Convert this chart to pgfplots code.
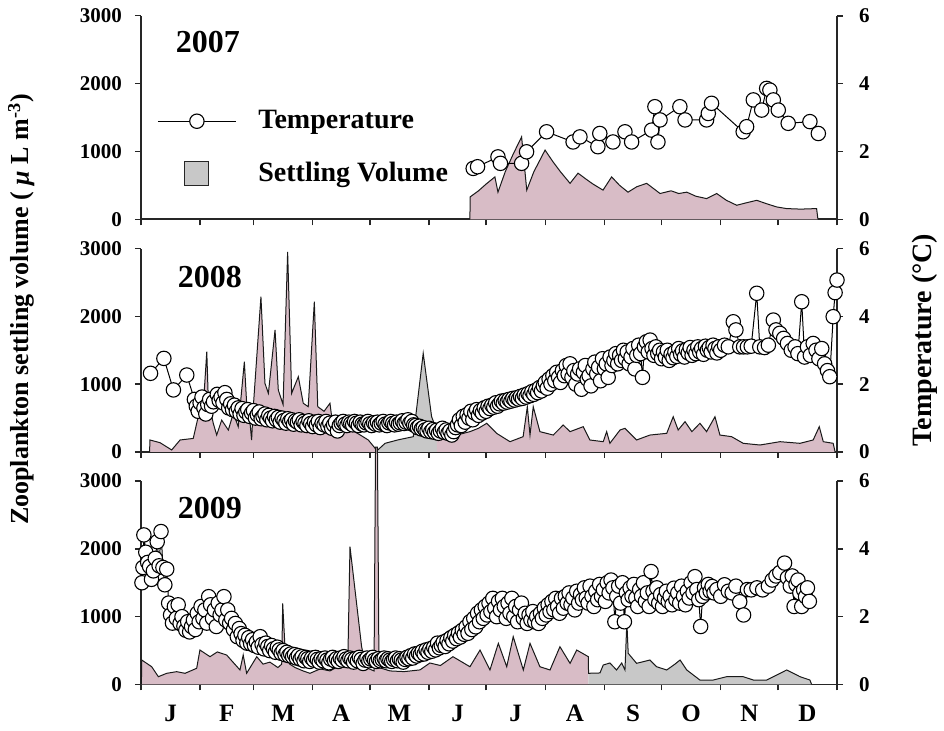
\documentclass[border=0pt]{standalone}
\usepackage{pgfplots}
\usepackage{pgfplotstable}
\pgfplotsset{compat=1.18}
\usepackage{fontspec}
\setmainfont{Liberation Serif}
\definecolor{volpink}{RGB}{216,188,198}
\definecolor{volgrey}{RGB}{200,200,200}
\tikzset{yearlbl/.style={font=\fontsize{16}{18}\selectfont\bfseries}}

\pgfplotstableread{
day vol
172.5 0
172.6 330
177 420
181 520
185.6 625
187.2 400
191 700
195 950
199.6 1215
202.3 430
206 700
211.9 1020
216 850
220 700
225 530
229.2 680
233 600
237 520
242.3 430
246.8 625
251 500
255.4 400
260 480
265.2 530
272.2 380
278 420
282 380
286.2 400
291 340
296.6 305
301.9 380
307 280
312.4 207
317 240
322.9 280
328 230
333.4 182
338.6 158
346 150
354.3 158
355 0
}\volA

\pgfplotstableread{
day t
174.2 1.50
176.5 1.55
187.2 1.84
188.5 1.65
199.6 1.65
202.2 1.99
212.7 2.58
226.6 2.28
230.2 2.43
239.6 2.14
240.6 2.53
247.5 2.28
253.8 2.58
257.3 2.28
267.8 2.63
269.5 3.32
271.1 2.28
272.2 2.93
282.6 3.32
285.3 2.93
296.6 2.93
297.5 3.12
299.2 3.42
315.8 2.58
317.6 2.73
321.1 3.52
325.5 3.22
328.1 3.86
329.8 3.81
331.6 3.52
334.2 3.22
339.4 2.83
350.8 2.88
355.2 2.53
}\tmpA

\pgfplotstableread{
day vol
4.5 0
4.7 177
10.0 137
16.1 30
20.5 177
27.4 200
30.0 520
32.5 600
34.5 1480
35.3 766
37.9 423
39.7 250
42.3 470
45.8 324
48.4 570
51.0 373
54.2 1330
55.4 718
57.2 423
58.0 177
58.9 668
62.9 2290
65.0 1013
66.8 865
70.3 1800
72.0 914
74.5 700
76.9 2950
79.0 865
82.5 1110
85.1 718
87.7 668
90.9 2215
92.7 668
96.0 600
99.1 718
100.0 520
105.0 450
110.5 324
115.0 250
119.2 177
123.8 20
128.0 128
135.0 180
142.8 226
148.0 1455
152.4 520
155.1 324
162.0 226
167.0 260
172.5 300
177.0 350
181.3 423
186.5 275
193.5 152
200.4 226
202.6 668
204.0 250
205.7 668
209.2 300
216.2 250
221.4 398
225.0 300
231.9 373
235.4 177
242.4 152
244.2 300
245.9 128
251.2 324
253.8 349
259.9 177
266.9 250
275.7 275
279.1 520
281.7 324
285.3 447
288.9 300
293.1 423
296.6 300
301.0 520
303.6 250
309.7 226
315.8 128
324.6 103
335.1 152
345.6 128
352.5 177
355.7 373
357.8 152
363.0 128
364.0 0
}\volB

\pgfplotstableread{
day t
5 2.32
12 2.76
17 1.83
24 2.27
28 1.55
29 1.35
30 1.20
31 1.45
32 1.62
33 1.30
34 1.12
35 1.40
36 1.55
37 1.35
38 1.48
40 1.70
41 1.52
42 1.62
43 1.45
44 1.75
45 1.55
46 1.30
47 1.42
48 1.25
49 1.38
50 1.20
51 1.30
52 1.12
53 1.28
54 1.08
55 1.18
56 1.25
57 1.05
58 1.15
59 1.22
60 1.00
61 1.10
62 1.18
63 0.98
64 1.05
65 1.12
66 0.95
67 1.08
68 1.00
69 0.92
70 1.05
71 0.95
72 1.02
73 0.88
74 1.00
75 0.93
76 0.85
77 0.98
78 0.90
79 0.95
80 0.82
81 0.92
82 0.88
83 0.95
84 0.80
85 0.90
86 0.85
87 0.78
88 0.92
89 0.84
90 0.75
91 0.88
92 0.80
93 0.90
94 0.72
95 0.85
96 0.80
97 0.90
98 0.76
99 0.85
100 0.70
101 0.80
102 0.88
103 0.62
104 0.78
105 0.85
106 0.90
107 0.82
108 0.78
109 0.88
110 0.84
111 0.80
112 0.90
113 0.85
114 0.78
115 0.88
116 0.82
117 0.80
118 0.86
119 0.90
120 0.83
121 0.78
122 0.86
123 0.82
124 0.88
125 0.80
126 0.85
127 0.90
128 0.82
129 0.78
130 0.86
131 0.90
132 0.84
133 0.80
134 0.88
135 0.82
136 0.86
137 0.92
138 0.84
139 0.88
140 0.95
141 0.85
142 0.90
143 0.80
144 0.78
145 0.72
146 0.76
147 0.68
148 0.72
149 0.65
150 0.62
151 0.70
152 0.60
153 0.66
154 0.58
155 0.64
156 0.55
157 0.62
158 0.70
159 0.58
160 0.65
161 0.55
162 0.62
163 0.50
164 0.60
165 0.72
166 0.80
167 0.95
168 0.78
169 1.05
170 0.88
171 1.10
172 1.00
173 1.20
174 0.95
175 1.15
176 1.25
177 1.08
178 1.22
179 1.15
180 1.30
181 1.20
182 1.35
183 1.28
184 1.38
185 1.32
186 1.45
187 1.35
188 1.42
189 1.50
190 1.44
191 1.52
192 1.47
193 1.55
194 1.50
195 1.58
196 1.53
197 1.60
198 1.56
199 1.64
200 1.58
201 1.68
202 1.62
203 1.72
204 1.66
205 1.78
206 1.70
207 1.82
208 1.75
209 1.90
210 1.80
211 1.95
212 2.05
213 1.88
214 2.15
215 2.00
216 2.25
217 2.10
218 2.35
219 2.20
220 2.05
221 2.40
222 2.25
223 2.55
224 2.30
225 2.60
226 2.20
227 2.40
228 2.00
229 2.30
230 2.45
231 1.85
232 2.35
233 2.55
234 2.15
235 2.25
236 1.95
237 2.45
238 2.65
239 2.30
240 2.50
241 2.10
242 2.75
243 2.45
244 2.60
245 2.20
246 2.80
247 2.55
248 2.70
249 2.90
250 2.60
251 2.85
252 2.70
253 3.00
254 2.75
255 2.95
256 2.60
257 2.80
258 3.05
259 2.45
260 2.85
261 3.15
262 2.90
263 2.20
264 3.10
265 3.25
266 2.95
267 3.30
268 3.05
269 2.85
270 3.10
271 2.90
272 3.00
273 2.75
274 2.95
275 2.80
276 3.00
277 2.70
278 2.88
279 2.78
280 2.95
281 2.82
282 3.05
283 2.88
284 2.98
285 2.80
286 3.02
287 2.92
288 3.08
289 2.85
290 3.00
291 2.90
292 3.10
293 2.95
294 3.05
295 2.88
296 3.12
297 3.00
298 3.08
299 2.95
300 3.15
301 3.05
302 2.92
303 3.10
304 3.00
306 3.15
308 3.10
310.6 3.84
312 3.60
314 3.10
316 3.10
318 3.10
320 3.12
322.9 4.68
324.5 3.10
327 3.08
329 3.15
331.6 3.89
333 3.60
335 3.50
337 3.35
339 3.20
341 3.00
343 3.10
344.5 2.90
346.5 4.43
348 2.80
349.5 3.10
351 2.85
352.5 3.20
354 3.00
355.5 2.75
357 3.05
358.5 2.60
360 2.40
361.2 2.22
363 3.99
364 4.70
365 5.07
}\tmpB

\pgfplotstableread{
day vol
0.2 0
0.4 361
5.6 262
9.1 115
13.5 165
18.7 189
23.1 165
29.2 239
30.9 508
36.2 410
40.0 480
44.9 435
51.9 214
53.6 435
55.4 165
60.7 410
64.0 300
67.6 330
71.8 250
73.8 300
74.3 1197
75.5 557
78.0 300
80.8 250
85.0 200
88.6 165
94.0 230
99.1 200
103.0 260
107.0 250
108.5 400
109.6 2031
115.7 557
118.0 250
122.2 200
123.0 3500
124.0 3500
124.8 250
130.6 200
138.0 190
146.3 215
151.5 317
157.0 280
163.6 410
172.5 262
177.8 508
183.0 214
187.4 607
191.8 262
195.2 705
200.5 214
204.0 607
209.2 262
214.5 214
219.7 557
225.0 312
228.5 508
234.6 410
234.7 165
240.7 170
242.4 287
245.9 317
249.4 214
252.1 317
253.8 214
254.8 920
255.5 460
259.9 312
266.9 361
270.4 262
275.7 214
280.0 300
282.7 361
286.2 214
293.1 66
300.1 66
307.1 115
315.8 115
321.1 66
328.1 66
338.6 214
345.6 115
350.8 66
351.7 0
}\volC

\pgfplotstableread{
day t
0.5 3.00
1.0 3.45
1.5 4.41
2.5 3.90
3.5 3.60
4.5 3.48
5.5 3.10
6.5 3.35
7.5 3.72
8.5 4.21
9.5 3.50
10.5 4.51
11.5 3.45
12.5 2.94
13.5 3.40
14.5 2.40
15.5 2.05
16.5 1.81
17.5 2.30
18.5 1.95
19.5 2.35
20.5 1.80
21.5 2.00
22.5 1.72
23.5 1.60
24.5 1.85
25.5 1.55
26.5 1.71
27.5 1.90
28.5 1.62
29.5 2.10
30.5 1.85
31.5 2.30
32.5 1.95
33.5 2.20
34.5 1.81
35.5 2.59
36.5 2.35
37.5 1.95
38.5 2.20
39.5 1.71
40.5 2.40
41.5 2.05
42.5 2.20
43.5 2.59
44.5 1.90
45.5 2.20
46.5 1.81
47.5 1.95
48.5 1.62
49.5 1.80
50.5 1.41
51.5 1.65
52.5 1.50
53.5 1.30
54.5 1.45
55.5 1.22
56.5 1.38
57.5 1.20
58.5 1.32
59.5 1.15
60.5 1.25
61.5 1.10
62.5 1.41
63.5 1.18
64.5 1.05
65.5 1.22
66.5 1.12
67.5 1.00
68.5 1.15
69.5 1.05
70.5 0.95
71.5 1.10
72.5 1.02
73.5 0.92
74.5 1.00
75.5 0.88
76.5 0.95
77.5 0.85
78.5 0.90
79.5 0.82
80.5 0.88
81.5 0.78
82.5 0.85
83.5 0.75
84.5 0.82
85.5 0.70
86.5 0.80
87.5 0.76
88.5 0.68
89.5 0.78
90.5 0.72
91.5 0.80
92.5 0.74
93.5 0.66
94.5 0.76
95.5 0.70
96.5 0.78
97.5 0.72
98.5 0.64
99.5 0.75
100.5 0.80
101.5 0.70
102.5 0.76
103.5 0.68
104.5 0.78
105.5 0.72
106.5 0.82
107.5 0.75
108.5 0.70
109.5 0.78
110.5 0.74
111.5 0.66
112.5 0.76
113.5 0.70
114.5 0.80
115.5 0.74
116.5 0.62
117.5 0.72
118.5 0.78
119.5 0.70
120.5 0.75
121.5 0.80
122.5 0.72
123.5 0.68
124.5 0.76
125.5 0.70
126.5 0.74
127.5 0.78
128.5 0.70
129.5 0.76
130.5 0.72
131.5 0.68
132.5 0.74
133.5 0.78
134.5 0.70
135.5 0.76
136.5 0.72
137.5 0.66
138.5 0.74
139.5 0.80
140.5 0.76
141.5 0.85
142.5 0.78
143.5 0.90
144.5 0.84
145.5 0.92
146.5 0.88
147.5 0.98
148.5 0.90
149.5 1.02
150.5 0.95
151.5 1.05
152.5 0.98
153.5 1.10
154.5 1.02
155.5 1.22
156.5 1.08
157.5 1.15
158.5 1.25
159.5 1.12
160.5 1.30
161.5 1.20
162.5 1.38
163.5 1.28
164.5 1.45
165.5 1.35
166.5 1.52
167.5 1.40
168.5 1.60
169.5 1.48
170.5 1.70
171.5 1.51
172.5 1.85
173.5 1.62
174.5 1.95
175.5 1.70
176.5 2.10
177.5 1.85
178.5 2.20
179.5 1.95
180.5 2.30
181.5 2.05
182.5 2.40
183.5 2.15
184.5 2.54
185.5 2.25
186.5 2.00
187.5 2.45
188.5 2.20
189.5 2.54
190.5 2.30
191.5 1.95
192.5 2.40
193.5 2.10
194.5 2.54
195.5 2.00
196.5 2.30
197.5 1.85
198.5 2.20
199.5 2.40
200.5 1.95
201.5 2.10
202.5 1.80
203.5 2.05
204.5 1.90
205.5 2.15
206.5 1.85
207.5 2.00
208.5 1.80
209.5 2.10
210.5 1.95
211.5 2.25
212.5 2.05
213.5 2.35
214.5 2.15
215.5 2.45
216.5 2.20
217.5 2.54
218.5 2.30
219.5 2.10
220.5 2.54
221.5 2.25
222.5 2.60
223.5 2.40
224.5 2.70
225.5 2.35
226.5 2.55
227.5 2.20
228.5 2.75
229.5 2.40
230.5 2.65
231.5 2.50
232.5 2.85
233.5 2.55
234.5 2.40
235.5 2.90
236.5 2.60
237.5 2.30
238.5 2.75
239.5 2.50
240.5 2.95
241.5 2.60
242.5 2.80
243.5 2.45
244.5 3.00
245.5 2.70
246.5 3.08
247.5 2.85
248.5 1.85
249.5 2.60
250.5 2.90
251.5 2.40
252.5 3.00
253.5 1.85
254.5 2.70
255.5 2.50
256.5 2.85
257.5 2.60
258.5 2.95
259.5 2.55
260.5 2.30
261.5 2.80
262.5 2.60
263.5 3.00
264.5 2.45
265.5 2.70
266.5 2.30
267.5 3.33
268.5 2.75
269.5 2.50
270.5 2.85
271.5 2.40
272.5 2.65
273.5 2.30
274.5 2.55
275.5 2.75
276.5 2.45
277.5 2.60
278.5 2.35
279.5 2.84
280.5 2.50
281.5 2.70
282.5 2.40
283.5 2.90
284.5 2.60
285.5 2.35
286.5 2.75
287.5 2.55
288.5 3.00
289.5 2.70
290.5 3.18
291.5 2.80
292.5 2.50
293.5 1.71
294.5 2.60
295.5 2.85
296.5 2.70
297.5 2.95
298.5 2.75
299.5 2.89
300.5 2.70
302 2.80
304 2.60
306 2.94
308 2.75
310 2.70
312 2.90
314 2.44
316 2.05
318 2.80
320 2.79
323 2.85
326 2.79
329 2.90
331 3.08
333 3.20
335 3.30
337.5 3.58
339 3.15
340.5 2.90
341.5 3.20
342.5 2.30
343.5 2.95
344.5 3.08
345.5 2.70
346.5 2.30
347.5 2.79
348.5 2.59
349.5 2.85
350.5 2.45
}\tmpC

\pgfplotsset{
  base/.style={scale only axis, width=348pt, height=101.75pt,
    xmin=0, xmax=365, clip=false,
    axis line style={line width=0.8pt, black!85},
    tick style={line width=0.7pt, black!85},
    tick align=outside, major tick length=3pt,
    tick label style={font=\fontsize{10.5}{12}\selectfont\bfseries},
    /pgf/number format/assume math mode=true,
    /pgf/number format/1000 sep={},
  },
  vol/.style={base, ymin=0, ymax=3000, axis x line*=bottom, axis y line*=left,
    ytick={0,1000,2000,3000},
    yticklabel style={xshift=-3pt},
    xtick={0,31,59,90,120,151,181,212,243,273,304,334,365}, xticklabels={},
  },
  tmp/.style={base, ymin=0, ymax=6, axis y line*=right, axis x line=none,
    ytick={0,2,4,6}, yticklabel style={xshift=4.5pt}},
  volline/.style={draw=black!90, line width=0.5pt},
  tmpline/.style={black, line width=0.5pt, mark=*, mark size=3.6pt,
    mark options={fill=white, draw=black, line width=0.55pt}},
}

\begin{document}
\begin{tikzpicture}
\useasboundingbox (0,0) rectangle (472pt,-365.5pt);

% ---------------- 2007 ----------------
\begin{axis}[vol, at={(70.5pt,-109.65pt)}, anchor=south west]
\addplot[fill=volpink, draw=none] table[x=day,y=vol] {\volA} \closedcycle;
\addplot[volline] table[x=day,y=vol] {\volA};
\node[yearlbl] at (axis description cs:0.096,0.872) {2007};
\end{axis}
\begin{axis}[tmp, at={(70.5pt,-109.65pt)}, anchor=south west,
  legend style={draw=none, fill=none, at={(axis description cs:0.023,0.556)},
    anchor=north west, font=\fontsize{14}{16}\selectfont\bfseries,
    row sep=11pt, inner sep=0pt, column sep=9pt},
  legend cell align=left]
\addplot[tmpline, legend image code/.code={
  \draw[black, line width=0.5pt] (0pt,0pt) -- (39pt,0pt);
  \draw[black, fill=white, line width=0.55pt] (19.5pt,0pt) circle (3.6pt);}]
  table[x=day,y=t] {\tmpA};
\addlegendentry{Temperature}
\addlegendimage{legend image code/.code={
  \path[draw=none, fill=none] (0pt,0pt) -- (39pt,0pt);
  \draw[black!85, line width=0.5pt, fill=volgrey] (13.5pt,-6pt) rectangle (25.5pt,6pt);}}
\addlegendentry{Settling Volume}
\end{axis}

% ---------------- 2008 ----------------
\begin{axis}[vol, at={(70.5pt,-226pt)}, anchor=south west,
  ylabel={Zooplankton settling volume (~\textit{μ}~L~m\textsuperscript{-3})},
  every axis y label/.style={at={(axis description cs:-0.172,0.70)}, rotate=90,
    anchor=center, font=\fontsize{13}{15}\selectfont\bfseries}]
\addplot[fill=volpink, draw=none, restrict x to domain=0:123.8] table[x=day,y=vol] {\volB} \closedcycle;
\addplot[fill=volgrey, draw=none, restrict x to domain=123.8:155.1] table[x=day,y=vol] {\volB} \closedcycle;
\addplot[fill=volpink, draw=none, restrict x to domain=155.1:365] table[x=day,y=vol] {\volB} \closedcycle;
\addplot[volline] table[x=day,y=vol] {\volB};
\node[yearlbl] at (axis description cs:0.099,0.86) {2008};
\end{axis}
\begin{axis}[tmp, at={(70.5pt,-226pt)}, anchor=south west,
  ylabel={Temperature (°C)},
  every axis y label/.style={at={(axis description cs:1.126,0.55)}, rotate=90,
    anchor=center, font=\fontsize{14}{16}\selectfont\bfseries}]
\addplot[tmpline] table[x=day,y=t] {\tmpB};
\end{axis}

% ---------------- 2009 ----------------
\begin{axis}[vol, at={(70.5pt,-342.25pt)}, anchor=south west,
  extra x ticks={15.5,45,74.5,105,135.5,166,196.5,227.5,258,288.5,319,349.5},
  extra x tick labels={J,F,M,A,M,J,J,A,S,O,N,D},
  extra x tick style={major tick length=0pt,
    tick label style={font=\fontsize{12.5}{14}\selectfont\bfseries, anchor=base, yshift=-18.5pt}}]
\addplot[fill=volpink, draw=none, restrict x to domain=0:234.6] table[x=day,y=vol] {\volC} \closedcycle;
\addplot[fill=volgrey, draw=none, restrict x to domain=234.6:365] table[x=day,y=vol] {\volC} \closedcycle;
\addplot[volline] table[x=day,y=vol] {\volC};
\node[yearlbl] at (axis description cs:0.099,0.867) {2009};
\end{axis}
\begin{axis}[tmp, at={(70.5pt,-342.25pt)}, anchor=south west]
\addplot[tmpline] table[x=day,y=t] {\tmpC};
\end{axis}
\end{tikzpicture}
\end{document}
